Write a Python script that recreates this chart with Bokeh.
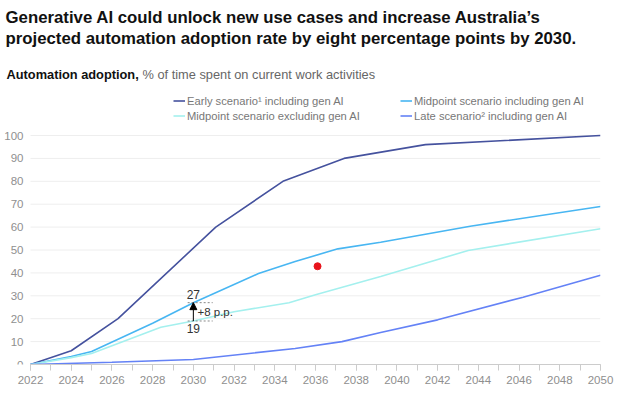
from bokeh.plotting import figure
from bokeh.models import (Label, Legend, LegendItem, FixedTicker, Arrow, NormalHead, Range1d)
from bokeh.embed import file_html
from bokeh.resources import INLINE
from bokeh.core.properties import value

# ---- data ----
early_x = [2022, 2024, 2026.3, 2031.1, 2034.4, 2037.4, 2041.4, 2050]
early_y = [0, 6, 20, 60, 80, 90, 96, 100]

mid_inc_x = [2022, 2024, 2025, 2028, 2030, 2033.2, 2035, 2037.1, 2039.2, 2043.6, 2050]
mid_inc_y = [0, 3.5, 5.7, 18, 27, 39.7, 45, 50.5, 53.4, 60.4, 69]

mid_exc_x = [2022, 2024, 2025, 2028.4, 2030, 2032, 2034.7, 2036, 2039.2, 2043.5, 2050]
mid_exc_y = [0, 3, 4.8, 16.3, 19, 23, 27, 30.5, 38.4, 49.8, 59.3]

late_x = [2022, 2026, 2030, 2035, 2037.3, 2039.2, 2042, 2046.2, 2050]
late_y = [0, 1, 2.2, 7, 10, 14, 19.5, 29.4, 39]

dot_x = [2036.1]
dot_y = [42.9]

anno_year = 2030
anno_low = 19
anno_high = 27
anno_text = "+8 p.p."

x_start, x_end = 2022, 2050
x_ticks = list(range(2022, 2051, 2))
x_minor = list(range(2022, 2051, 1))
y_ticks = list(range(0, 101, 10))

labels = ["Early scenario\u00b9 including gen AI",
          "Midpoint scenario including gen AI",
          "Midpoint scenario excluding gen AI",
          "Late scenario\u00b2 including gen AI"]
colors = ["#45529e", "#48b6f2", "#a4f0ee", "#6482f6"]

title_lines = ["Generative AI could unlock new use cases and increase Australia\u2019s",
               "projected automation adoption rate by eight percentage points by 2030."]
subtitle_bold = "Automation adoption,"
subtitle_rest = "% of time spent on current work activities"

FONT = "Liberation Sans"

# layout: frame covers canvas except bottom axis strip & right margin
W, H = 634, 398
FRAME_W, FRAME_H = 600, 364
LEFT_PAD, PX_100 = 30, 229  # px from frame left to 2022, px from 0 to 100
xr0 = x_start - LEFT_PAD / (FRAME_W - LEFT_PAD) * (x_end - x_start)
yr1 = 100 * FRAME_H / PX_100

p = figure(width=W, height=H, output_backend="svg", toolbar_location=None,
           x_range=Range1d(xr0, x_end), y_range=Range1d(0, yr1),
           min_border_left=0, min_border_right=W - FRAME_W, min_border_top=0,
           min_border_bottom=H - FRAME_H)
p.outline_line_color = None
p.background_fill_color = "white"
p.border_fill_color = "white"

# x axis
p.xaxis.ticker = FixedTicker(ticks=x_ticks, minor_ticks=x_minor)
p.xaxis.bounds = (x_start, x_end)
p.xaxis.axis_line_color = "#cccccc"
p.xaxis.major_tick_line_color = "#cccccc"
p.xaxis.minor_tick_line_color = "#cccccc"
p.xaxis.major_tick_in = 0
p.xaxis.major_tick_out = 6
p.xaxis.minor_tick_in = 0
p.xaxis.minor_tick_out = 6
p.xaxis.major_label_text_color = "#8f8f8f"
p.xaxis.major_label_text_font = FONT
p.xaxis.major_label_text_font_size = "11.5px"
p.xaxis.major_label_standoff = 5

p.yaxis.visible = False
p.xgrid.grid_line_color = None
p.ygrid.grid_line_color = None

# gridlines and y tick labels drawn from y_ticks
p.segment(x0=[x_start] * len(y_ticks), x1=[x_end] * len(y_ticks), y0=y_ticks, y1=y_ticks,
          line_color="#eeeeee", line_width=1)
p.text(x=[x_start] * len(y_ticks), y=y_ticks, text=[str(t) for t in y_ticks],
       x_offset=-7, text_align="right", text_baseline="middle",
       text_font=value(FONT), text_font_size="11.5px", text_color="#8f8f8f")

series = [(early_x, early_y), (mid_inc_x, mid_inc_y), (mid_exc_x, mid_exc_y), (late_x, late_y)]
rends = []
for (xs, ys), c in zip(series, colors):
    r = p.line(xs, ys, line_color=c, line_width=1.6)
    rends.append(r)

p.scatter(dot_x, dot_y, size=7, color="#e8141c")

# annotation
p.segment(x0=[anno_year - 0.28, anno_year - 0.28], x1=[anno_year + 0.95, anno_year + 0.95],
          y0=[anno_high, anno_low], y1=[anno_high, anno_low],
          line_color="#888888", line_dash="2 2", line_width=1)
p.add_layout(Arrow(end=NormalHead(size=7, fill_color="black", line_color="black"),
                   x_start=anno_year, y_start=anno_low, x_end=anno_year, y_end=anno_high,
                   line_color="black", line_width=1))
p.add_layout(Label(x=anno_year, y=anno_high + 1.4, text=str(anno_high), text_align="center",
                   text_baseline="bottom", text_font=FONT, text_font_size="12px",
                   text_color="#333333"))
p.add_layout(Label(x=anno_year, y=anno_low - 1.5, text=str(anno_low), text_align="center",
                   text_baseline="top", text_font=FONT, text_font_size="12px",
                   text_color="#333333"))
p.add_layout(Label(x=anno_year + 0.2, y=(anno_low + anno_high) / 2, text=anno_text,
                   text_align="left", text_baseline="middle", text_font=FONT,
                   text_font_size="11.5px", text_color="#333333"))

# titles (screen units relative to frame bottom-left)
def sy(img_y):
    return FRAME_H - img_y

p.add_layout(Label(x=5, y=sy(17), x_units="screen", y_units="screen", text=title_lines[0],
                   text_font=FONT, text_font_size="16.8px", text_font_style="bold",
                   text_color="#111111", text_baseline="alphabetic"))
p.add_layout(Label(x=5, y=sy(37.5), x_units="screen", y_units="screen", text=title_lines[1],
                   text_font=FONT, text_font_size="16.8px", text_font_style="bold",
                   text_color="#111111", text_baseline="alphabetic"))
p.add_layout(Label(x=6, y=sy(74), x_units="screen", y_units="screen", text=subtitle_bold,
                   text_font=FONT, text_font_size="12.8px", text_font_style="bold",
                   text_color="#111111", text_baseline="alphabetic"))
p.add_layout(Label(x=142, y=sy(74), x_units="screen", y_units="screen", text=subtitle_rest,
                   text_font=FONT, text_font_size="12.8px",
                   text_color="#666666", text_baseline="alphabetic"))

# legends
def make_legend(idx, loc):
    return Legend(items=[LegendItem(label=labels[i], renderers=[rends[i]]) for i in idx],
                  location=loc, orientation="vertical", border_line_color=None,
                  background_fill_alpha=0, padding=0, margin=0, spacing=0,
                  glyph_width=12, glyph_height=15, label_height=15, label_standoff=2,
                  label_text_font=FONT, label_text_font_size="11.2px",
                  label_text_color="#777777")

p.add_layout(make_legend([0, 2], (173, sy(123))), "center")
p.add_layout(make_legend([1, 3], (400, sy(123))), "center")

open("out.html", "w").write(file_html(p, INLINE))
